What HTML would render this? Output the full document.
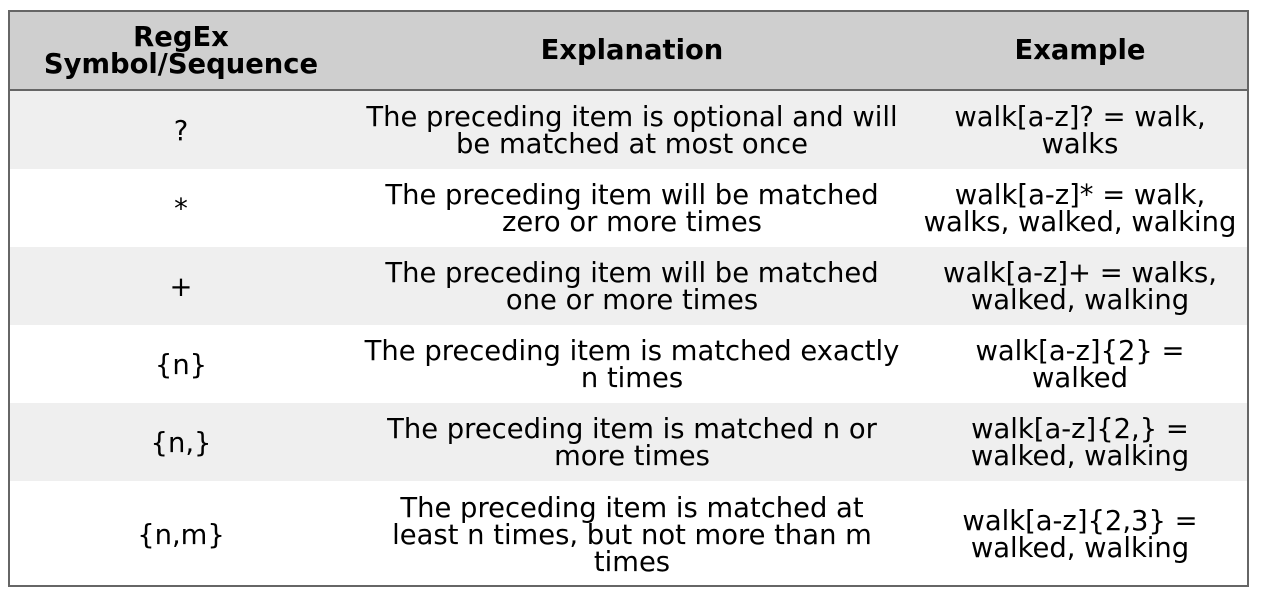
<!DOCTYPE html>
<html><head><style>
body{margin:0;width:1261px;height:596px;background:#fff;font-family:"DejaVu Sans","Liberation Sans",sans-serif;overflow:hidden}
.t{position:absolute;left:8px;top:10px;width:1241px;height:577px;box-sizing:border-box;border:2px solid #666;overflow:hidden}
.r{position:absolute;left:0;width:1240px;display:flex}
.c{display:flex;align-items:center;justify-content:center;text-align:center;font-size:27.4px;line-height:27px;color:#000;height:100%;white-space:nowrap;padding-top:2px;box-sizing:border-box}
.c1{position:absolute;left:0;width:342px}
.c2{position:absolute;left:342px;width:560px}
.c3{position:absolute;left:901px;width:338px}
.h{background:#cfcfcf;font-weight:bold;border-bottom:2px solid #666;box-sizing:border-box}
.g{background:#efefef}
</style></head><body>
<div class="t">
<div class="r h" style="top:-2px;height:81px"><div class="c c1">RegEx<br>Symbol/Sequence</div><div class="c c2">Explanation</div><div class="c c3">Example</div></div>
<div class="r g" style="top:79px;height:78px"><div class="c c1">?</div><div class="c c2">The preceding item is optional and will<br>be matched at most once</div><div class="c c3">walk[a-z]? = walk,<br>walks</div></div>
<div class="r" style="top:157px;height:78px"><div class="c c1">*</div><div class="c c2">The preceding item will be matched<br>zero or more times</div><div class="c c3">walk[a-z]* = walk,<br>walks, walked, walking</div></div>
<div class="r g" style="top:235px;height:78px"><div class="c c1">+</div><div class="c c2">The preceding item will be matched<br>one or more times</div><div class="c c3">walk[a-z]+ = walks,<br>walked, walking</div></div>
<div class="r" style="top:313px;height:78px"><div class="c c1">{n}</div><div class="c c2">The preceding item is matched exactly<br>n times</div><div class="c c3">walk[a-z]{2} =<br>walked</div></div>
<div class="r g" style="top:391px;height:78px"><div class="c c1">{n,}</div><div class="c c2">The preceding item is matched n or<br>more times</div><div class="c c3">walk[a-z]{2,} =<br>walked, walking</div></div>
<div class="r" style="top:469px;height:106px"><div class="c c1">{n,m}</div><div class="c c2">The preceding item is matched at<br>least n times, but not more than m<br>times</div><div class="c c3">walk[a-z]{2,3} =<br>walked, walking</div></div>
</div>
</body></html>
